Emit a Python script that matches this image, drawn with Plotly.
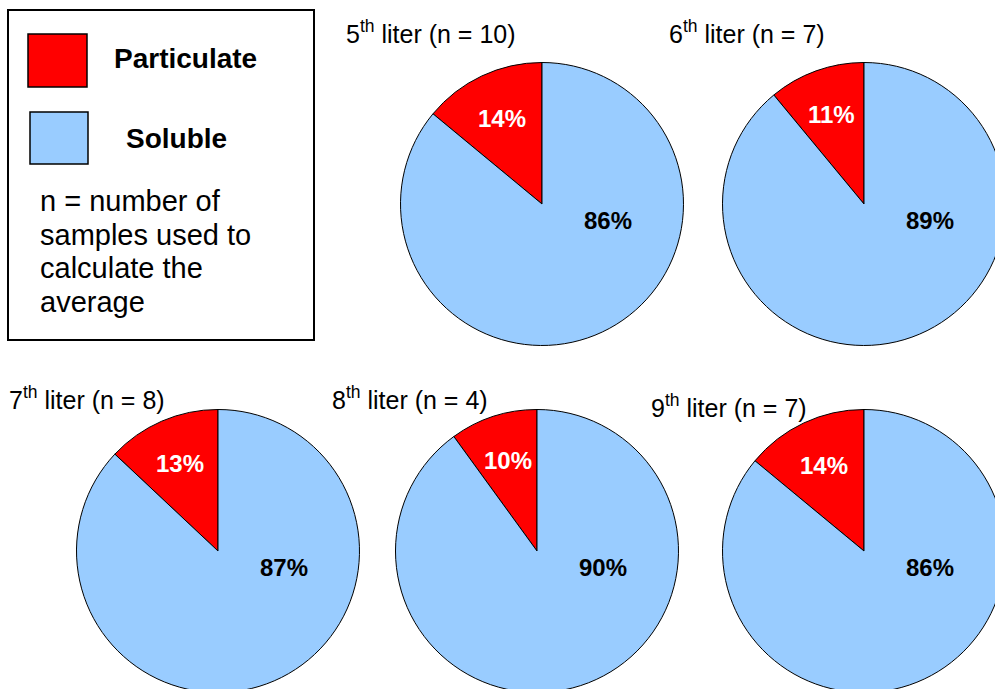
import math
import plotly.graph_objects as go

# Share of particulate vs soluble material per liter sampled
liters = ["5", "6", "7", "8", "9"]
n_samples = [10, 7, 8, 4, 7]
particulate = [14, 11, 13, 10, 14]
soluble = [86, 89, 87, 90, 86]
components = ["Particulate", "Soluble"]
colors = ["#FF0000", "#99CCFF"]

# Canvas in pixels (slightly wider/taller than the viewport so edge pies are cut)
W, H = 1010, 700
R = 141.5
centers = [(542, 204), (864, 204), (218, 551), (537, 551), (864, 551)]
title_pos = [(344, 32), (667, 32), (7, 398), (330, 398), (649, 406)]

FONT = "Liberation Sans, Arial, sans-serif"

fig = go.Figure()
annotations = []

for i, (lit, n, p, s) in enumerate(zip(liters, n_samples, particulate, soluble)):
    cx, cy = centers[i]
    fig.add_trace(go.Pie(
        labels=components,
        values=[p, s],
        sort=False,
        direction="clockwise",
        rotation=-p / 100 * 360,
        marker=dict(colors=colors, line=dict(color="black", width=1)),
        textinfo="none",
        hovertemplate="%{label}: %{value}%<extra></extra>",
        showlegend=False,
        domain=dict(x=[(cx - R) / W, (cx + R) / W],
                    y=[1 - (cy + R) / H, 1 - (cy - R) / H]),
    ))
    # value labels
    half = math.radians(p / 100 * 360 / 2)
    sx = cx - 0.67 * R * math.sin(half)
    sy = cy - 0.67 * R * math.cos(half)
    annotations.append(dict(x=sx, y=sy, xref="x", yref="y", text=f"{p}%",
                            showarrow=False, xanchor="center", yanchor="middle",
                            font=dict(family=FONT, size=24, color="white", weight="bold")))
    annotations.append(dict(x=cx + 0.465 * R, y=cy + 0.115 * R, xref="x", yref="y",
                            text=f"{s}%", showarrow=False, xanchor="center", yanchor="middle",
                            font=dict(family=FONT, size=24, color="black", weight="bold")))
    tx, ty = title_pos[i]
    annotations.append(dict(x=tx, y=ty, xref="x", yref="y",
                            text=f"{lit}<sup>th</sup> liter (n = {n})",
                            showarrow=False, xanchor="left", yanchor="middle",
                            font=dict(family=FONT, size=25, color="black")))

# Key box
shapes = [
    dict(type="rect", x0=8, y0=10, x1=314, y1=340, xref="x", yref="y",
         line=dict(color="black", width=2), fillcolor="white", layer="below"),
    dict(type="rect", x0=28, y0=34, x1=87, y1=87, xref="x", yref="y",
         line=dict(color="black", width=1.5), fillcolor=colors[0]),
    dict(type="rect", x0=30, y0=112, x1=88, y1=164, xref="x", yref="y",
         line=dict(color="black", width=1.5), fillcolor=colors[1]),
]
annotations.append(dict(x=112, y=58, xref="x", yref="y", text=components[0],
                        showarrow=False, xanchor="left", yanchor="middle",
                        font=dict(family=FONT, size=28, color="black", weight="bold")))
annotations.append(dict(x=124, y=138, xref="x", yref="y", text=components[1],
                        showarrow=False, xanchor="left", yanchor="middle",
                        font=dict(family=FONT, size=28, color="black", weight="bold")))
note_lines = ["n = number of", "samples used to", "calculate the", "average"]
for k, line in enumerate(note_lines):
    annotations.append(dict(x=38, y=201 + k * 33.5, xref="x", yref="y", text=line,
                            showarrow=False, xanchor="left", yanchor="middle",
                            font=dict(family=FONT, size=29, color="black")))

fig.update_layout(
    width=W, height=H,
    margin=dict(l=0, r=0, t=0, b=0),
    paper_bgcolor="white", plot_bgcolor="white",
    xaxis=dict(range=[0, W], visible=False, domain=[0, 1], fixedrange=True),
    yaxis=dict(range=[H, 0], visible=False, domain=[0, 1], fixedrange=True),
    shapes=shapes,
    annotations=annotations,
)

fig.write_html("out.html",
               post_script="document.body.style.margin='0';document.body.style.overflow='hidden';")
